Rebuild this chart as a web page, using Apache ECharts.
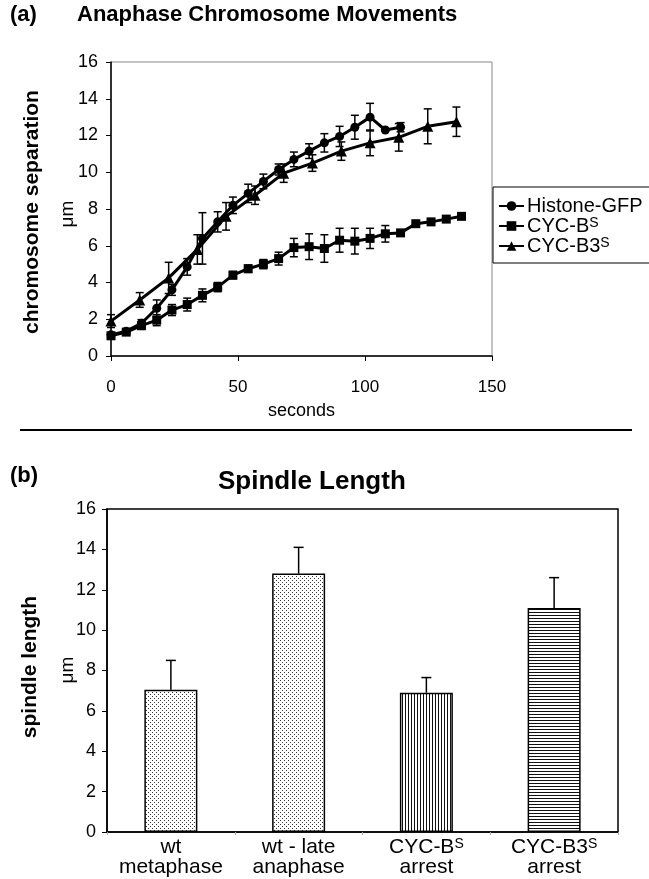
<!DOCTYPE html>
<html>
<head>
<meta charset="utf-8">
<script src="https://cdn.jsdelivr.net/npm/echarts@6/dist/echarts.min.js"></script>
<style>
html, body { margin: 0; padding: 0; background: #fff; }
#main { width: 649px; height: 879px; }
</style>
</head>
<body>
<div id="main"></div>
<script>
// (a) chromosome separation (um) vs seconds
var histoneTime = [0, 6, 12, 18, 24, 30, 36, 42, 48, 54, 60, 66, 72, 78, 84, 90, 96, 102, 108, 114];
var histoneSep  = [1.15, 1.35, 1.78, 2.6, 3.6, 4.85, 6.4, 7.3, 8.2, 8.85, 9.5, 10.15, 10.7, 11.15, 11.6, 11.95, 12.45, 13.0, 12.3, 12.45];
var histoneErr  = [0.1, 0.1, 0.2, 0.45, 0.3, 0.45, 1.4, 0.55, 0.45, 0.5, 0.4, 0.3, 0.4, 0.4, 0.5, 0.55, 0.65, 0.75, 0, 0.25];

var cycbTime = [0, 6, 12, 18, 24, 30, 36, 42, 48, 54, 60, 66, 72, 78, 84, 90, 96, 102, 108, 114, 120, 126, 132, 138];
var cycbSep  = [1.1, 1.3, 1.65, 1.95, 2.5, 2.8, 3.3, 3.75, 4.4, 4.75, 5.0, 5.3, 5.9, 5.95, 5.85, 6.3, 6.25, 6.4, 6.65, 6.7, 7.2, 7.3, 7.45, 7.6];
var cycbErr  = [0.1, 0.1, 0.2, 0.3, 0.3, 0.35, 0.35, 0.25, 0.2, 0.2, 0.25, 0.35, 0.5, 0.7, 0.75, 0.65, 0.7, 0.55, 0.45, 0, 0, 0, 0, 0];

var cycb3Time = [0, 11.3, 22.7, 34, 45.3, 56.7, 68, 79.3, 90.7, 102, 113.3, 124.7, 136];
var cycb3Sep  = [1.9, 3.05, 4.25, 5.8, 7.6, 8.75, 9.95, 10.5, 11.15, 11.6, 11.9, 12.5, 12.75];
var cycb3Err  = [0.35, 0.4, 0.85, 0.8, 0.75, 0.5, 0.5, 0.45, 0.5, 0.7, 0.75, 0.95, 0.8];

var seriesNames = ['Histone-GFP', 'CYC-B^S', 'CYC-B3^S'];
var secondsTicks = [0, 150, 50];   // min, max, interval
var umTicks = [0, 16, 2];

// (b) spindle length
var barCategories = ['wt\nmetaphase', 'wt - late\nanaphase', 'CYC-B^S\narrest', 'CYC-B3^S\narrest'];
var barValues = [7.05, 12.8, 6.9, 11.1];
var barErr    = [1.45, 1.3, 0.75, 1.5];

function pattern(kind) {
    var c = document.createElement('canvas');
    var ctx = c.getContext('2d');
    if (kind === 'dots') {
        c.width = 4; c.height = 4;
        ctx.fillStyle = '#fff'; ctx.fillRect(0, 0, 4, 4);
        ctx.fillStyle = '#333';
        ctx.fillRect(0, 0, 1, 1); ctx.fillRect(2, 2, 1, 1);
    } else if (kind === 'vlines') {
        c.width = 3; c.height = 3;
        ctx.fillStyle = '#fff'; ctx.fillRect(0, 0, 3, 3);
        ctx.fillStyle = '#111'; ctx.fillRect(0, 0, 1, 3);
    } else {
        c.width = 3; c.height = 3;
        ctx.fillStyle = '#fff'; ctx.fillRect(0, 0, 3, 3);
        ctx.fillStyle = '#111'; ctx.fillRect(0, 0, 3, 1);
    }
    return { image: c, repeat: 'repeat' };
}
var barFills = [pattern('dots'), pattern('dots'), pattern('vlines'), pattern('hlines')];

function sup(line, style) {
    var i = line.indexOf('^S');
    if (i < 0) return '{' + style + '|' + line + '}';
    return '{' + style + '|' + line.slice(0, i) + '}{' + style + 's|S}' + '{' + style + '|' + line.slice(i + 2) + '}';
}

function pairs(xs, ys) {
    return xs.map(function(x, i) { return [x, ys[i]]; });
}
function errRows(xs, ys, es) {
    var out = [];
    xs.forEach(function(x, i) {
        if (es[i] > 0) out.push([x, ys[i] - es[i], ys[i] + es[i]]);
    });
    return out;
}

var errRender = function(params, api) {
    var x = api.value(0);
    var lo = api.coord([x, api.value(1)]);
    var hi = api.coord([x, api.value(2)]);
    var cap = 4;
    var st = { stroke: '#000', lineWidth: 1.5 };
    return {
        type: 'group',
        children: [
            { type: 'line', shape: { x1: lo[0], y1: lo[1], x2: hi[0], y2: hi[1] }, style: st },
            { type: 'line', shape: { x1: lo[0] - cap, y1: lo[1], x2: lo[0] + cap, y2: lo[1] }, style: st },
            { type: 'line', shape: { x1: hi[0] - cap, y1: hi[1], x2: hi[0] + cap, y2: hi[1] }, style: st }
        ]
    };
};

var barErrRender = function(params, api) {
    var i = api.value(0);
    var lo = api.coord([i, api.value(1)]);
    var hi = api.coord([i, api.value(2)]);
    var cap = 5;
    var st = { stroke: '#000', lineWidth: 1.5 };
    return {
        type: 'group',
        children: [
            { type: 'line', shape: { x1: lo[0], y1: lo[1], x2: hi[0], y2: hi[1] }, style: st },
            { type: 'line', shape: { x1: hi[0] - cap, y1: hi[1], x2: hi[0] + cap, y2: hi[1] }, style: st }
        ]
    };
};

var chart = echarts.init(document.getElementById('main'));
var ff = 'Liberation Sans, Arial, sans-serif';

var lineStyle = { color: '#000', width: 3 };
var titleStyle = function(size) {
    return { fontSize: size, fontWeight: 'bold', fontFamily: ff, color: '#000' };
};
var option = {
    animation: false,
    backgroundColor: '#fff',
    textStyle: { fontFamily: ff, color: '#000' },
    title: [
        { text: '(a)', left: 10, top: 4, padding: 0, textStyle: titleStyle(22) },
        { text: 'Anaphase Chromosome Movements', left: 77, top: 4, padding: 0, textStyle: titleStyle(22) },
        { text: '(b)', left: 10, top: 465, padding: 0, textStyle: titleStyle(22) },
        { text: 'Spindle Length', left: 218, top: 469, padding: 0, textStyle: titleStyle(26) }
    ],
    legend: {
        orient: 'vertical',
        left: 493, top: 187,
        padding: [9, 25, 7, 5],
        borderColor: '#000', borderWidth: 1,
        itemWidth: 25, itemHeight: 12, itemGap: 0,
        data: seriesNames.slice(),
        formatter: function(name) { return sup(name, 'l'); },
        textStyle: {
            padding: [0, 0, 0, -2],
            rich: {
                l: { fontSize: 20, lineHeight: 20, fontFamily: ff, color: '#000' },
                ls: { fontSize: 14, lineHeight: 14, verticalAlign: 'top', fontFamily: ff, color: '#000' }
            }
        }
    },
    grid: [
        { left: 111, top: 62, width: 381, height: 294, show: true, borderColor: '#888', borderWidth: 1, backgroundColor: 'transparent' },
        { left: 107, top: 509, width: 511, height: 323, show: true, borderColor: '#000', borderWidth: 1.5, backgroundColor: 'transparent' }
    ],
    xAxis: [
        {
            gridIndex: 0, type: 'value', min: secondsTicks[0], max: secondsTicks[1], interval: secondsTicks[2],
            name: 'seconds', nameLocation: 'middle', nameGap: 46,
            nameTextStyle: { fontSize: 18, fontFamily: ff, color: '#000' },
            axisLine: { lineStyle: { color: '#000', width: 1.5 } },
            axisTick: { show: true, length: 5, lineStyle: { color: '#000' } },
            axisLabel: { fontSize: 17, margin: 23, color: '#000', fontFamily: ff },
            splitLine: { show: false }
        },
        {
            gridIndex: 1, type: 'category', data: barCategories,
            axisLine: { lineStyle: { color: '#000', width: 1.5 } },
            axisTick: { show: true, length: 3, lineStyle: { color: '#aaa' } },
            axisLabel: {
                margin: 5, color: '#000', interval: 0,
                formatter: function(v) { return v.split('\n').map(function(l) { return sup(l, 'c'); }).join('\n'); },
                rich: {
                    c: { fontSize: 21, lineHeight: 20, fontFamily: ff, color: '#000' },
                    cs: { fontSize: 14, lineHeight: 12, verticalAlign: 'top', fontFamily: ff, color: '#000' }
                }
            },
            splitLine: { show: false }
        }
    ],
    yAxis: [
        {
            gridIndex: 0, type: 'value', min: umTicks[0], max: umTicks[1], interval: umTicks[2],
            axisLine: { show: true, lineStyle: { color: '#000', width: 1.5 } },
            axisTick: { show: true, length: 5, lineStyle: { color: '#000' } },
            axisLabel: { fontSize: 18, margin: 13, color: '#000', fontFamily: ff },
            splitLine: { show: false }
        },
        {
            gridIndex: 1, type: 'value', min: umTicks[0], max: umTicks[1], interval: umTicks[2],
            axisLine: { show: true, lineStyle: { color: '#000', width: 1.5 } },
            axisTick: { show: true, length: 5, lineStyle: { color: '#000' } },
            axisLabel: { fontSize: 18, margin: 11, color: '#000', fontFamily: ff },
            splitLine: { show: false }
        }
    ],
    graphic: [
        { type: 'text', x: 32, y: 212, rotation: Math.PI / 2, style: { text: 'chromosome separation', fontSize: 21, fontWeight: 'bold', fontFamily: ff, fill: '#000', align: 'center', verticalAlign: 'middle' } },
        { type: 'text', x: 68, y: 214, rotation: Math.PI / 2, style: { text: 'μm', fontSize: 19, fontFamily: ff, fill: '#000', align: 'center', verticalAlign: 'middle' } },
        { type: 'text', x: 30, y: 667, rotation: Math.PI / 2, style: { text: 'spindle length', fontSize: 21, fontWeight: 'bold', fontFamily: ff, fill: '#000', align: 'center', verticalAlign: 'middle' } },
        { type: 'text', x: 68, y: 670, rotation: Math.PI / 2, style: { text: 'μm', fontSize: 19, fontFamily: ff, fill: '#000', align: 'center', verticalAlign: 'middle' } },
        { type: 'line', shape: { x1: 20, y1: 430, x2: 632, y2: 430 }, style: { stroke: '#000', lineWidth: 2 } }
    ],
    series: [
        {
            type: 'custom', name: 'errA1', xAxisIndex: 0, yAxisIndex: 0, renderItem: errRender,
            encode: { x: 0, y: [1, 2] }, data: errRows(histoneTime, histoneSep, histoneErr), z: 1
        },
        {
            type: 'custom', name: 'errA2', xAxisIndex: 0, yAxisIndex: 0, renderItem: errRender,
            encode: { x: 0, y: [1, 2] }, data: errRows(cycbTime, cycbSep, cycbErr), z: 1
        },
        {
            type: 'custom', name: 'errA3', xAxisIndex: 0, yAxisIndex: 0, renderItem: errRender,
            encode: { x: 0, y: [1, 2] }, data: errRows(cycb3Time, cycb3Sep, cycb3Err), z: 1
        },
        {
            type: 'line', name: seriesNames[0], xAxisIndex: 0, yAxisIndex: 0,
            data: pairs(histoneTime, histoneSep), symbol: 'circle', symbolSize: 9,
            lineStyle: lineStyle, itemStyle: { color: '#000' }, z: 3
        },
        {
            type: 'line', name: seriesNames[1], xAxisIndex: 0, yAxisIndex: 0,
            data: pairs(cycbTime, cycbSep), symbol: 'rect', symbolSize: 9,
            lineStyle: lineStyle, itemStyle: { color: '#000' }, z: 3
        },
        {
            type: 'line', name: seriesNames[2], xAxisIndex: 0, yAxisIndex: 0,
            data: pairs(cycb3Time, cycb3Sep), symbol: 'triangle', symbolSize: 11,
            lineStyle: lineStyle, itemStyle: { color: '#000' }, z: 3
        },
        {
            type: 'bar', xAxisIndex: 1, yAxisIndex: 1, barWidth: 53,
            data: barValues.map(function(v, i) {
                return { value: v, itemStyle: { color: barFills[i], borderColor: '#000', borderWidth: 1.5 } };
            }),
            z: 2
        },
        {
            type: 'custom', xAxisIndex: 1, yAxisIndex: 1, renderItem: barErrRender,
            encode: { x: 0, y: [1, 2] },
            data: barValues.map(function(v, i) { return [i, v, v + barErr[i]]; }), z: 3
        }
    ]
};
chart.setOption(option);
</script>
</body>
</html>
